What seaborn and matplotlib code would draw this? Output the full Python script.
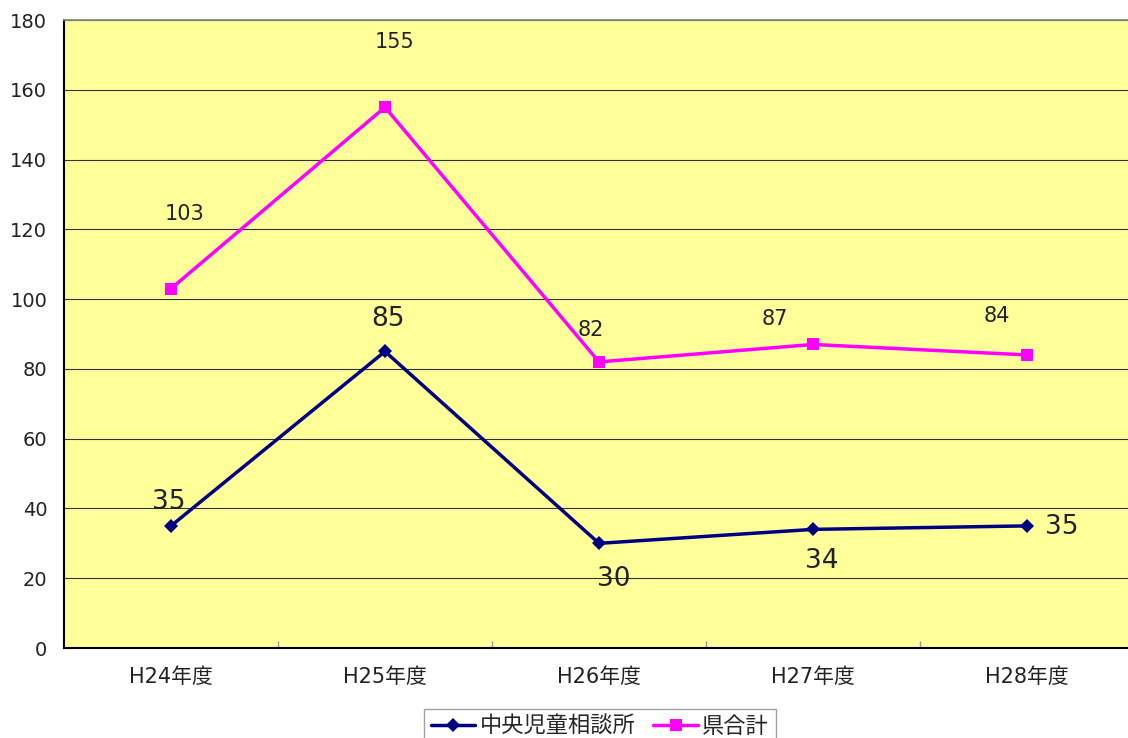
import pandas as pd
import matplotlib
matplotlib.use("Agg")
import matplotlib.pyplot as plt
import seaborn as sns

# data
years = ["H24年度", "H25年度", "H26年度", "H27年度", "H28年度"]
chuo = [35, 85, 30, 34, 35]
ken = [103, 155, 82, 87, 84]

# label offsets (pixels) for the value labels
chuo_off = [(-2, 24), (3, 32), (15, -36), (9, -32), (35, -1)]
ken_off = [(14, 75), (10, 65), (-8, 32), (-38, 25), (-30, 39)]

df = pd.DataFrame({"年度": years * 2,
                   "件数": chuo + ken,
                   "区分": ["中央児童相談所"] * 5 + ["県合計"] * 5})

sns.set_theme(style="white")
plt.rcParams["font.family"] = ["DejaVu Sans", "Noto Sans CJK JP"]

fig = plt.figure(figsize=(11.28, 7.38), dpi=100)
ax = fig.add_axes([64 / 1128, 90 / 738, 1070 / 1128, 628 / 738])
ax.set_facecolor("#FFFF99")

palette = {"中央児童相談所": "#000080", "県合計": "#FF00FF"}
markers = {"中央児童相談所": "D", "県合計": "s"}
sns.lineplot(data=df, x="年度", y="件数", hue="区分", style="区分",
             palette=palette, markers=markers, dashes=False,
             markersize=9, linewidth=2.5, markeredgewidth=0, ax=ax)
for line in ax.lines:
    if line.get_marker() == "D":
        line.set_markersize(7)

ax.set_xlim(-0.5, 4.5)
ax.set_ylim(0, 180)
ax.set_yticks(range(0, 181, 20))
ax.yaxis.grid(True, color="#333333", linewidth=0.8)
ax.set_axisbelow(True)
ax.set_xlabel("")
ax.set_ylabel("")
ax.tick_params(axis="y", labelsize=14, colors="#222222", pad=12, length=0)
ax.tick_params(axis="x", labelsize=15, colors="#222222", pad=14, length=0)
ax.set_xticks(range(5))
ax.set_xticks([0.5, 1.5, 2.5, 3.5], minor=True)
ax.tick_params(axis="x", which="minor", direction="in", length=5, color="#999999", bottom=True)

for s in ["left", "bottom"]:
    ax.spines[s].set_color("black")
    ax.spines[s].set_linewidth(1.5)
ax.spines["top"].set_color("#888888")
ax.spines["right"].set_visible(False)

for i, v in enumerate(chuo):
    ax.annotate(str(v), (i, v), xytext=chuo_off[i], textcoords="offset pixels",
                ha="center", va="center", fontsize=19, color="#222222")
for i, v in enumerate(ken):
    ax.annotate(str(v), (i, v), xytext=ken_off[i], textcoords="offset pixels",
                ha="center", va="center", fontsize=15, color="#222222")

leg = ax.legend(loc="upper center", bbox_to_anchor=(536 / 1070, -0.08), ncol=2,
                frameon=True, fancybox=False, edgecolor="#888888", fontsize=16,
                handlelength=2.0, columnspacing=0.8, handletextpad=0.2,
                borderpad=0.3)
leg.get_frame().set_linewidth(1)
leg.set_title(None)

fig.savefig("out.png", dpi=100)
